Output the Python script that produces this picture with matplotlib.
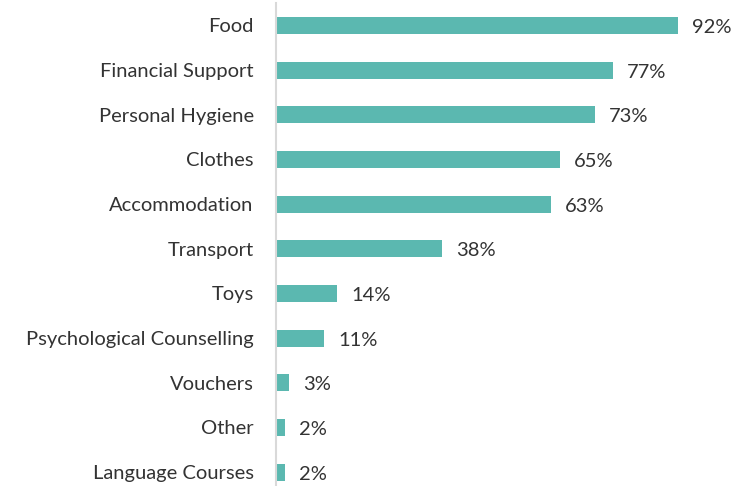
import matplotlib.pyplot as plt

# data
categories = ["Food", "Financial Support", "Personal Hygiene", "Clothes", "Accommodation",
              "Transport", "Toys", "Psychological Counselling", "Vouchers", "Other",
              "Language Courses"]
values = [92, 77, 73, 65, 63, 38, 14, 11, 3, 2, 2]

plt.rcParams['font.family'] = ['Lato', 'DejaVu Sans']

fig = plt.figure(figsize=(7.35, 4.86), dpi=100)
ax = fig.add_axes([276 / 735, 0, 459 / 735, 483 / 486])

pos = list(range(len(categories)))
ax.barh(pos, values, height=0.38, color='#5BB8B0')

for p, v in zip(pos, values):
    ax.annotate(f"{v}%", (v, p), xytext=(10, -1.5), textcoords='offset points',
                va='center', ha='left', fontsize=14.5, color='#333333')

ax.set_yticks(pos)
ax.set_yticklabels(categories, fontsize=14.5, color='#333333')
ax.tick_params(axis='y', length=0, pad=16)
ax.set_xticks([])
ax.set_xlim(0, 105)
ax.set_ylim(10.31, -0.5)

for s in ['top', 'right', 'bottom']:
    ax.spines[s].set_visible(False)
ax.spines['left'].set_color('#D9D9D9')
ax.spines['left'].set_linewidth(1.5)

fig.savefig('out.png', dpi=100)
